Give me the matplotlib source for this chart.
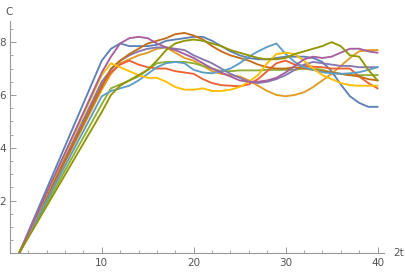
import matplotlib.pyplot as plt
from matplotlib.ticker import MultipleLocator

# x grid (the rise from x=1 is a straight line up to x=10)
x = [1] + list(range(10, 41))

blue = [0, 7.3, 7.75, 7.95, 7.85, 7.85, 7.85, 7.9, 8.05, 8.1, 8.15, 8.2, 8.2, 8.05, 7.85, 7.65, 7.5,
        7.4, 7.35, 7.35, 7.4, 7.45, 7.45, 7.45, 7.4, 7.25, 6.9, 6.4, 5.95, 5.7, 5.55, 5.55]
orange = [0, 6.2, 6.8, 7.2, 7.35, 7.5, 7.6, 7.75, 7.8, 7.6, 7.4, 7.3, 7.1, 6.9, 6.8, 6.75, 6.7,
          6.55, 6.35, 6.15, 6.0, 5.95, 6.0, 6.1, 6.3, 6.55, 6.8, 7.1, 7.4, 7.65, 7.7, 7.7]
green = [0, 5.65, 6.25, 6.4, 6.55, 6.7, 6.95, 7.2, 7.25, 7.25, 7.25, 7.2, 7.1, 7.0, 6.9, 6.9, 6.93,
         6.93, 6.93, 6.95, 6.95, 6.95, 6.95, 7.0, 7.0, 6.95, 6.85, 6.8, 6.75, 6.75, 6.75, 6.75]
red = [0, 6.4, 6.85, 7.15, 7.3, 7.15, 7.05, 7.0, 7.0, 6.9, 6.85, 6.8, 6.6, 6.45, 6.37, 6.35, 6.33,
       6.4, 6.6, 6.9, 7.2, 7.3, 7.15, 7.1, 7.07, 7.05, 7.0, 7.0, 7.0, 6.7, 6.45, 6.25]
purple = [0, 6.5, 6.95, 7.3, 7.5, 7.65, 7.75, 7.8, 7.8, 7.75, 7.7, 7.5, 7.35, 7.2, 7.0, 6.8, 6.65,
          6.5, 6.45, 6.5, 6.6, 6.75, 6.95, 7.15, 7.25, 7.2, 7.15, 7.1, 7.1, 7.05, 7.05, 7.05]
brown = [0, 6.3, 7.0, 7.3, 7.55, 7.75, 7.95, 8.05, 8.15, 8.3, 8.35, 8.25, 8.1, 7.85, 7.65, 7.5, 7.4,
         7.3, 7.15, 7.05, 7.0, 7.0, 7.05, 7.0, 6.95, 6.9, 6.85, 6.8, 6.75, 6.7, 6.6, 6.55]
lightblue = [0, 5.95, 6.15, 6.25, 6.35, 6.55, 6.8, 7.05, 7.2, 7.25, 7.2, 6.95, 6.85, 6.82, 6.9, 7.0, 7.2,
             7.45, 7.65, 7.82, 7.95, 7.55, 7.25, 7.05, 6.95, 6.86, 6.82, 6.8, 6.82, 6.86, 6.95, 7.05]
yellow = [0, 6.75, 7.2, 7.05, 6.9, 6.75, 6.65, 6.65, 6.5, 6.3, 6.2, 6.2, 6.25, 6.15, 6.15, 6.2, 6.3,
          6.5, 6.75, 7.2, 7.55, 7.6, 7.55, 7.3, 7.0, 6.75, 6.6, 6.45, 6.37, 6.35, 6.35, 6.35]
magenta = [0, 6.85, 7.45, 7.95, 8.15, 8.2, 8.15, 7.95, 7.8, 7.7, 7.55, 7.4, 7.2, 7.0, 6.85, 6.7, 6.55,
           6.5, 6.5, 6.55, 6.65, 6.85, 7.1, 7.35, 7.45, 7.4, 7.45, 7.6, 7.75, 7.75, 7.65, 7.6]
olive = [0, 5.35, 6.0, 6.35, 6.55, 6.75, 6.95, 7.3, 7.7, 7.95, 8.05, 8.1, 8.05, 7.95, 7.85, 7.7, 7.6,
         7.5, 7.4, 7.35, 7.35, 7.4, 7.55, 7.65, 7.75, 7.85, 8.0, 7.85, 7.5, 7.45, 6.95, 6.55]

series = [blue, orange, green, red, purple, brown, lightblue, yellow, magenta, olive]
colors = ['#5E81B5', '#E19C24', '#8FB032', '#EB6235', '#8778B3',
          '#C56E1A', '#5D9EC7', '#FFBF00', '#A5609D', '#929600']

fig = plt.figure(figsize=(4.05, 2.73), dpi=100)
ax = fig.add_axes([0.025, 0.072, 0.923, 0.851])

for ys, c in zip(series, colors):
    ax.plot(x, ys, color=c, lw=1.35, solid_joinstyle='round')

gray = '#999999'
ax.set_xlim(0.03, 40.7)
ax.set_ylim(0, 8.8)
for s in ['top', 'right']:
    ax.spines[s].set_visible(False)
for s in ['left', 'bottom']:
    ax.spines[s].set_color(gray)
    ax.spines[s].set_linewidth(0.8)

ax.xaxis.set_major_locator(MultipleLocator(10))
ax.xaxis.set_minor_locator(MultipleLocator(2))
ax.yaxis.set_major_locator(MultipleLocator(2))
ax.yaxis.set_minor_locator(MultipleLocator(0.5))
ax.tick_params(which='both', direction='in', color=gray, labelcolor='#555555', labelsize=7.5)
ax.tick_params(which='major', length=4, width=0.7, pad=3)
ax.tick_params(which='minor', length=2, width=0.6)
ax.set_xticks([10, 20, 30, 40])
ax.set_yticks([2, 4, 6, 8])

fig.text(0.014, 0.975, 'C', ha='left', va='top', fontsize=7.5, color='#555555')
fig.text(0.972, 0.072, '2t', ha='left', va='center', fontsize=7.5, color='#555555')

fig.savefig('out.png', dpi=100)
